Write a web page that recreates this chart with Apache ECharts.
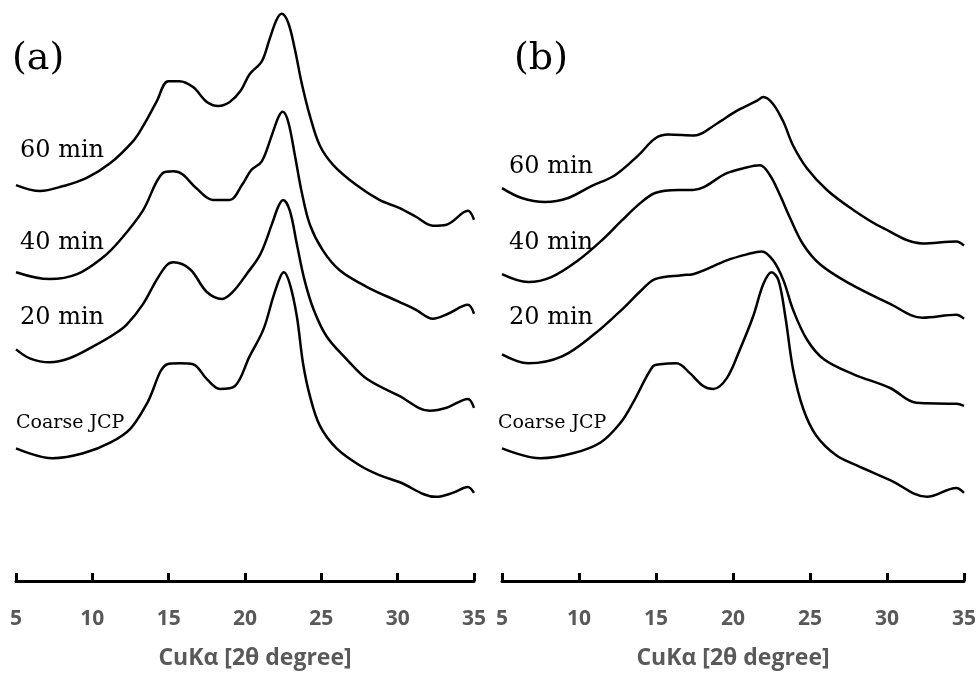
<!DOCTYPE html>
<html>
<head>
<meta charset="utf-8">
<script src="https://cdn.jsdelivr.net/npm/echarts@6/dist/echarts.min.js"></script>
<style>
  html, body { margin: 0; padding: 0; background: #fff; }
  #chart-container { width: 979px; height: 675px; }
</style>
</head>
<body>
<div id="chart-container"></div>
<script>
// x = 2θ (degree), y = intensity (arbitrary units, curves offset)
var tickLabels = ['5', '10', '15', '20', '25', '30', '35'];
var curveNames = ['60 min', '40 min', '20 min', 'Coarse JCP'];

// panel (a)
var a60 = [[5,400],[6.57,394],[8.1,399],[9.6,407],[11.16,422],[12.7,445],[13.34,460],[14.2,484],[14.97,505],[15.7,505],[16.6,499],[17.5,484],[18.25,480],[19.0,484],[19.7,495],[20.3,512],[21.1,525],[21.6,547],[22.07,567],[22.4,573],[22.83,564],[23.27,537],[23.7,504],[24.25,470],[24.9,440],[25.8,420],[27.3,400],[28.8,385],[30.1,377],[31.2,368],[32.3,359],[33.2,360],[34.6,374],[35,365]];
var a40 = [[5,312],[7.2,305],[9.0,310],[10.7,327],[11.8,344],[13.3,374],[14.6,412],[15.3,414],[15.9,411],[16.8,397],[17.9,385],[19.0,385],[19.8,400],[20.4,415],[21.1,424],[21.75,450],[22.2,469],[22.47,474],[22.83,464],[23.27,430],[23.7,394],[24.25,360],[25.1,334],[26.2,314],[28.0,297],[30.1,282],[31.2,274],[32.3,265],[33.3,270],[34.6,279],[35,270]];
var a20 = [[5,234],[5.9,225],[7.2,221],[8.5,225],[10.06,237],[11.4,249],[12.25,259],[13.33,280],[14.2,304],[14.87,319],[15.3,322],[16.4,315],[17.5,292],[18.5,285],[19.2,292],[20.1,310],[21.0,330],[21.75,360],[22.2,379],[22.5,385],[22.94,374],[23.4,340],[23.9,304],[24.5,274],[25.35,247],[26.66,224],[28.0,204],[30.1,187],[32.1,172],[33.2,175],[34.6,184],[35,175]];
var aCoarse = [[5,134],[7.4,124],[9.4,129],[11.2,140],[12.5,154],[13.6,180],[14.9,219],[15.74,220],[16.6,219],[17.5,204],[18.36,194],[19.34,197],[20.3,227],[21.2,254],[21.85,287],[22.3,307],[22.55,312],[22.94,300],[23.4,267],[23.8,220],[24.25,187],[24.9,157],[26.0,134],[27.5,117],[28.8,107],[30.1,100],[32.5,85],[33.6,89],[34.6,95],[35,89]];

// panel (b)
var b60 = [[5,397],[6.28,387],[7.8,383],[9.3,387],[10.8,399],[12.34,410],[13.85,430],[14.94,447],[15.8,451],[17.5,450],[18.94,462],[20.24,475],[21.54,485],[21.97,489],[22.6,482],[23.27,464],[23.9,440],[24.8,417],[26.1,395],[27.8,375],[29.7,357],[32.3,341],[34.5,343],[35,339]];
var b40 = [[5,310],[6.7,302],[8.2,307],[9.95,324],[11.47,344],[12.77,364],[13.85,380],[14.94,392],[16.45,395],[17.4,395],[19.6,412],[20.67,417],[21.75,420],[22.4,410],[23.05,390],[23.7,367],[24.56,340],[25.65,320],[27.4,302],[30.2,280],[32.3,266],[34.5,269],[35,265]];
var b20 = [[5,229],[6.7,220],[8.9,227],[11.04,250],[12.77,274],[14.07,294],[14.94,305],[16.67,309],[17.4,310],[19.6,324],[20.9,330],[21.86,333],[22.6,324],[23.27,304],[23.9,274],[24.8,244],[25.9,224],[27.8,209],[30.2,195],[31.9,180],[34.5,179],[35,177]];
var bCoarse = [[5,134],[7.5,124],[9.6,129],[11.4,140],[12.7,160],[13.5,180],[14.8,217],[15.26,219],[16.34,220],[17.2,210],[18.07,197],[18.72,194],[19.6,205],[20.45,234],[21.3,267],[21.97,300],[22.5,312],[22.95,304],[23.4,267],[23.9,214],[24.56,174],[25.4,147],[26.7,127],[28.0,117],[30.2,102],[32.6,85],[34.5,94],[35,89]];

var dom = document.getElementById('chart-container');
var myChart = echarts.init(dom, null, { renderer: 'canvas' });

var serif = '"DejaVu Serif", "Liberation Serif", serif';
var sans = '"Open Sans", "Noto Sans", sans-serif';

function xAxisFor(idx, namePad) {
    return {
        type: 'value',
        gridIndex: idx,
        min: 5,
        max: 35,
        interval: 5,
        name: 'CuKα [2θ degree]',
        nameLocation: 'middle',
        nameGap: 66,
        nameTextStyle: {
            color: '#595959', fontSize: 23, fontWeight: 'bold', fontFamily: sans,
            padding: [0, 0, 0, namePad]
        },
        axisLine: { show: true, lineStyle: { color: '#000', width: 3 } },
        axisTick: { show: true, inside: true, length: 8, lineStyle: { color: '#000', width: 3 } },
        axisLabel: {
            margin: 28,
            color: '#595959',
            fontSize: 21,
            fontWeight: 'bold',
            fontFamily: sans,
            formatter: function (v) { return tickLabels[(v - 5) / 5]; }
        },
        splitLine: { show: false }
    };
}

function yAxisFor(idx) {
    return { type: 'value', gridIndex: idx, min: 0, max: 587, show: false };
}

function lineSeries(data, idx) {
    return {
        type: 'line',
        xAxisIndex: idx,
        yAxisIndex: idx,
        data: data,
        showSymbol: false,
        smooth: 0.35,
        lineStyle: { color: '#000', width: 2.5 }
    };
}

function label(text, x, y, size) {
    return {
        type: 'text',
        left: x,
        top: y,
        style: { text: text, font: size + 'px ' + serif, fill: '#000' }
    };
}

var option = {
    animation: false,
    backgroundColor: '#fff',
    grid: [
        { left: 16, right: 505, top: 0, bottom: 88 },
        { left: 502, right: 15, top: 0, bottom: 88 }
    ],
    xAxis: [xAxisFor(0, 20), xAxisFor(1, 0)],
    yAxis: [yAxisFor(0), yAxisFor(1)],
    series: [
        lineSeries(a60, 0), lineSeries(a40, 0), lineSeries(a20, 0), lineSeries(aCoarse, 0),
        lineSeries(b60, 1), lineSeries(b40, 1), lineSeries(b20, 1), lineSeries(bCoarse, 1)
    ],
    graphic: [
        label('(a)', 12, 40, 38),
        label('(b)', 514, 40, 38),
        label(curveNames[0], 20, 139, 24),
        label(curveNames[1], 20, 231, 24),
        label(curveNames[2], 20, 306, 24),
        label(curveNames[3], 16, 414, 19),
        label(curveNames[0], 509, 155, 24),
        label(curveNames[1], 509, 231, 24),
        label(curveNames[2], 509, 306, 24),
        label(curveNames[3], 498, 414, 19)
    ]
};

myChart.setOption(option);
window.addEventListener('resize', myChart.resize);
</script>
</body>
</html>
